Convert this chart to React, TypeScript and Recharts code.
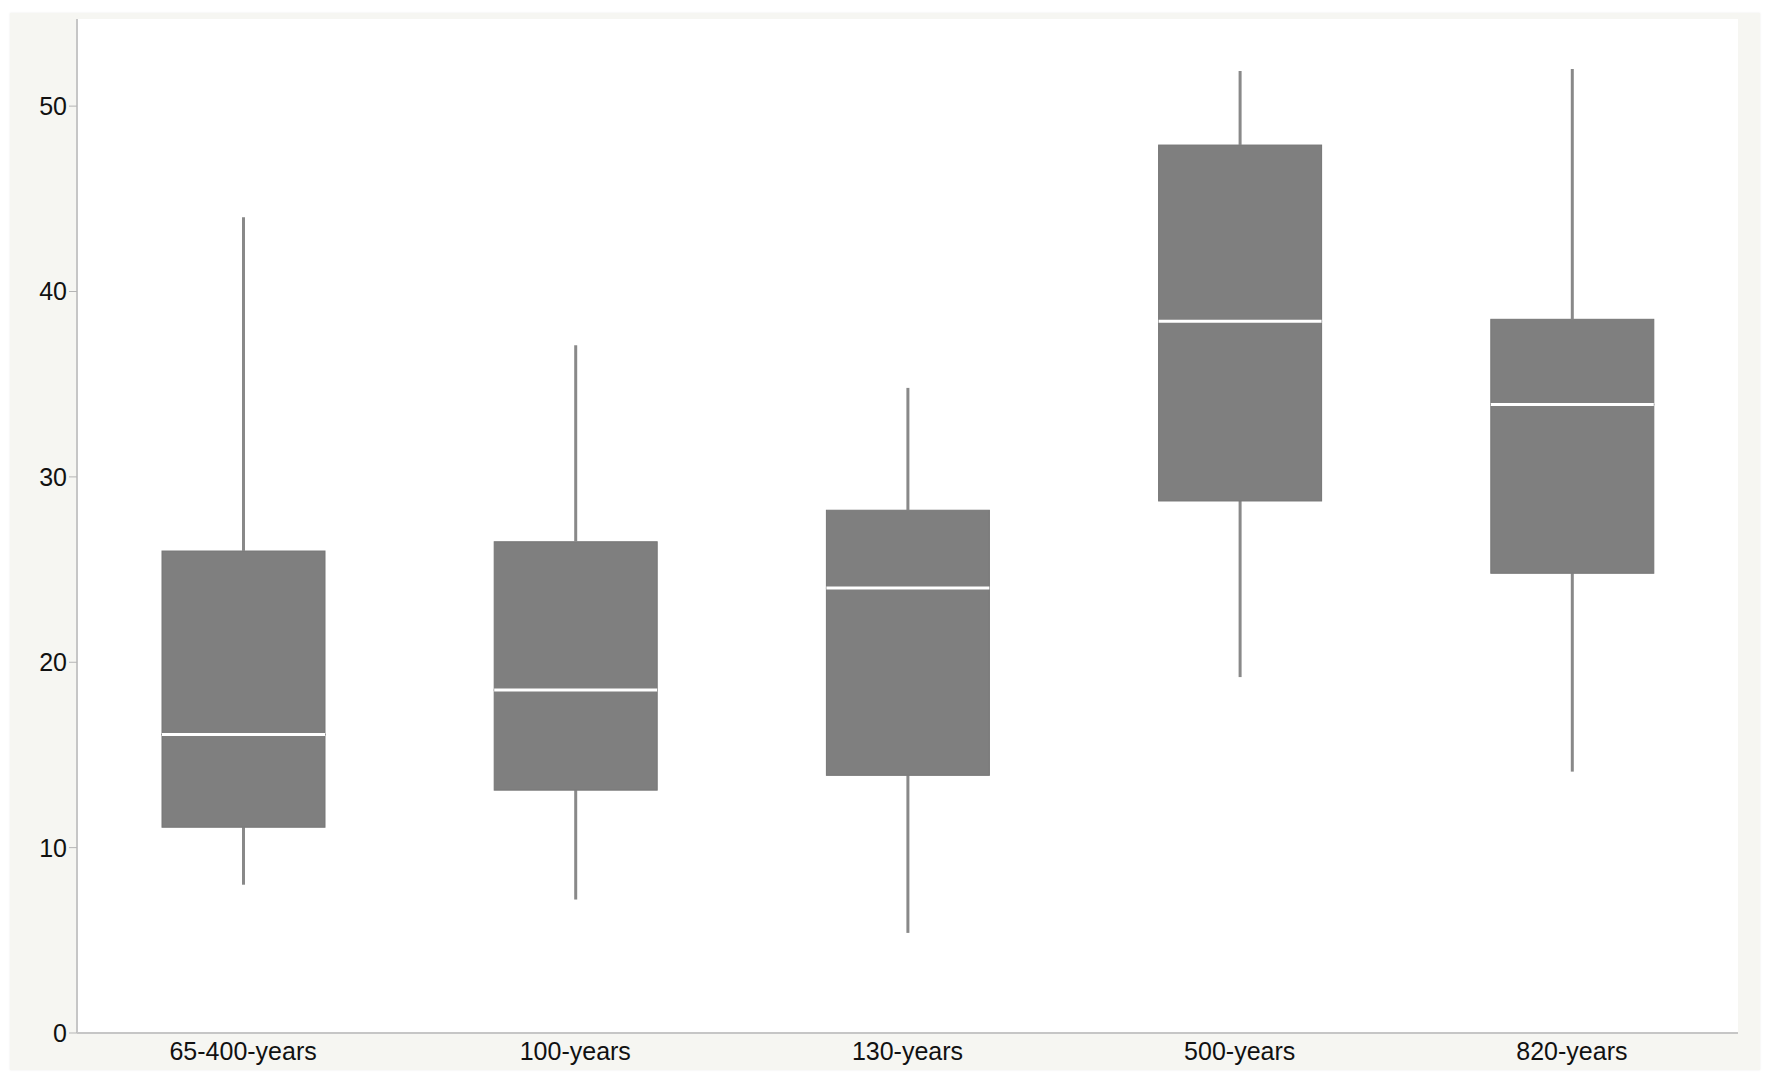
import React from 'react';
import { ComposedChart, Bar, XAxis, YAxis, CartesianGrid } from 'recharts';

const categories = ['65-400-years', '100-years', '130-years', '500-years', '820-years'];
const mins = [8.0, 7.2, 5.4, 19.2, 14.1];
const q1s = [11.1, 13.1, 13.9, 28.7, 24.8];
const medians = [16.1, 18.5, 24.0, 38.4, 33.9];
const q3s = [26.0, 26.5, 28.2, 47.9, 38.5];
const maxs = [44.0, 37.1, 34.8, 51.9, 52.0];
const yTicks = [0, 10, 20, 30, 40, 50];

const data = categories.map((name, i) => ({
    name,
    base: mins[i],
    lowWhisker: q1s[i] - mins[i],
    lowBox: medians[i] - q1s[i],
    highBox: q3s[i] - medians[i],
    highWhisker: maxs[i] - q3s[i],
}));

const BOX = '#7f7f7f';
const WHISKER = '#898989';
const AXIS = '#c6c6c6';
const FONT = '"Liberation Sans", Arial, Helvetica, sans-serif';

const Empty = () => <g />;

const Whisker = (props: any) => {
    const { x, y, width, height } = props;
    const cx = x + width / 2;
    return <line x1={cx} x2={cx} y1={y} y2={y + height} stroke={WHISKER} strokeWidth={3} />;
};

const LowBox = (props: any) => {
    const { x, y, width, height } = props;
    return <rect x={x} y={y} width={width} height={height} fill={BOX} stroke="#767676" strokeWidth={1} />;
};

// upper half of the box, with the white median line on its lower edge
const HighBox = (props: any) => {
    const { x, y, width, height } = props;
    return (
        <g>
            <rect x={x} y={y} width={width} height={height} fill={BOX} stroke="#767676" strokeWidth={1} />
            <line x1={x} x2={x + width} y1={y + height} y2={y + height} stroke="#ffffff" strokeWidth={3} />
        </g>
    );
};

const tickStyle = { fontSize: 25, fill: '#111111', fontFamily: FONT };

const App: React.FC = () => {
    return (
        <div style={{ position: 'fixed', left: 0, top: 0, width: 1772, height: 1086, background: '#ffffff' }}>
            <div
                style={{
                    position: 'absolute',
                    left: 10,
                    top: 13,
                    width: 1750,
                    height: 1057,
                    background: '#f6f6f2',
                    boxShadow: '0 0 2px rgba(0,0,0,0.08)',
                }}
            />
            <div style={{ position: 'absolute', left: 0, top: 0 }}>
                <ComposedChart
                    width={1772}
                    height={1086}
                    data={data}
                    margin={{ top: 19, right: 34, left: 17, bottom: 18 }}
                    barSize={163}
                >
                    <CartesianGrid horizontal={false} vertical={false} fill="#ffffff" />
                    <XAxis
                        dataKey="name"
                        height={35}
                        tickLine={false}
                        tick={tickStyle}
                        tickSize={7}
                        axisLine={{ stroke: AXIS, strokeWidth: 2 }}
                        interval={0}
                    />
                    <XAxis
                        xAxisId="top"
                        dataKey="name"
                        orientation="top"
                        height={0}
                        tick={false}
                        tickLine={false}
                        axisLine={{ stroke: AXIS, strokeWidth: 2 }}
                    />
                    <YAxis
                        width={60}
                        domain={[0, 54.7]}
                        ticks={yTicks}
                        allowDataOverflow
                        tick={tickStyle}
                        tickSize={8}
                        tickLine={{ stroke: '#b5b5b5' }}
                        axisLine={{ stroke: AXIS, strokeWidth: 2 }}
                    />
                    <YAxis
                        yAxisId="right"
                        orientation="right"
                        width={0}
                        domain={[0, 54.7]}
                        tick={false}
                        tickLine={false}
                        axisLine={{ stroke: AXIS, strokeWidth: 2 }}
                    />
                    <Bar dataKey="base" stackId="box" shape={<Empty />} isAnimationActive={false} />
                    <Bar dataKey="lowWhisker" stackId="box" shape={<Whisker />} isAnimationActive={false} />
                    <Bar dataKey="lowBox" stackId="box" shape={<LowBox />} isAnimationActive={false} />
                    <Bar dataKey="highBox" stackId="box" shape={<HighBox />} isAnimationActive={false} />
                    <Bar dataKey="highWhisker" stackId="box" shape={<Whisker />} isAnimationActive={false} />
                </ComposedChart>
            </div>
        </div>
    );
};

export default App;
